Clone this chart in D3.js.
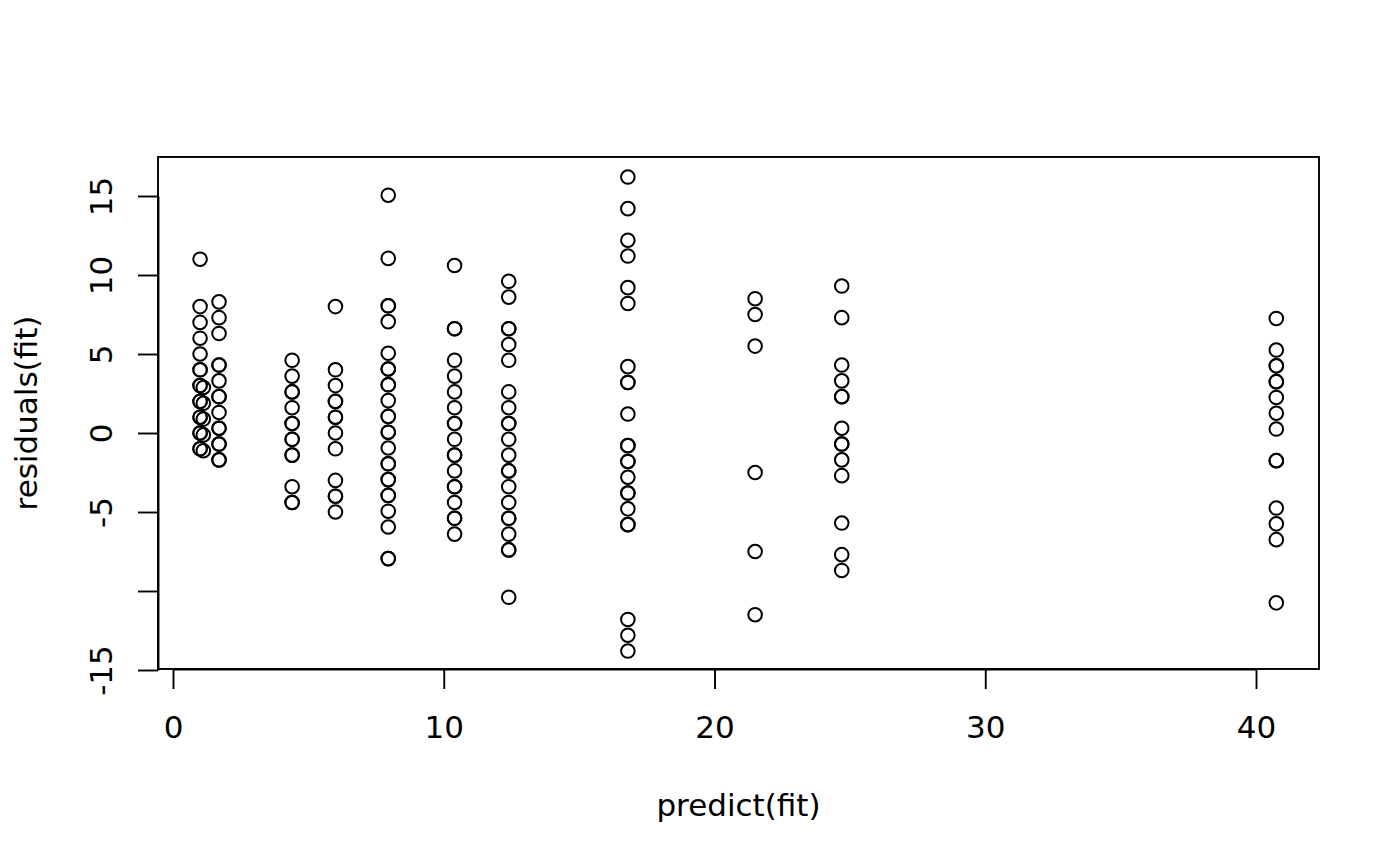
<!DOCTYPE html>
<html>
<head>
<meta charset="utf-8">
<script src="https://cdn.jsdelivr.net/npm/d3@7"></script>
<style>
  html, body { margin: 0; padding: 0; background: #fff; }
  text { font-family: "DejaVu Sans", sans-serif; fill: #000; }
</style>
</head>
<body>
<div class="graph-goes-here"></div>
<script>
// fitted value of each group, and the residuals drawn in that column
var predicted = [1.0, 1.12, 1.7, 4.4, 6.0, 7.95, 10.4, 12.4, 16.8, 21.5, 24.7, 40.75];
var residualGroups = [
    [11, 8, 7, 6, 5, 4, 4, 3, 3, 2, 2, 1, 1, 0, 0, -1, -1],
    [2.88, 1.88, 0.88, -0.12, -1.12],
    [8.3, 7.3, 6.3, 4.3, 4.3, 3.3, 2.3, 2.3, 1.3, 0.3, 0.3, -0.7, -0.7, -1.7, -1.7],
    [4.6, 3.6, 2.6, 2.6, 1.6, 0.6, 0.6, -0.4, -0.4, -1.4, -1.4, -3.4, -4.4, -4.4],
    [8, 4, 3, 2, 2, 1, 1, 0, -1, -3, -4, -4, -5],
    [15.05, 11.05, 8.05, 8.05, 7.05, 5.05, 4.05, 4.05, 3.05, 3.05, 2.05, 1.05, 1.05, 0.05, 0.05,
     -0.95, -1.95, -1.95, -2.95, -2.95, -3.95, -3.95, -4.95, -5.95, -7.95, -7.95],
    [10.6, 6.6, 6.6, 4.6, 3.6, 2.6, 1.6, 0.6, 0.6, -0.4, -1.4, -1.4, -2.4, -3.4, -3.4, -4.4, -5.4, -5.4, -6.4],
    [9.6, 8.6, 6.6, 6.6, 5.6, 4.6, 2.6, 1.6, 0.6, 0.6, -0.4, -1.4, -2.4, -2.4, -3.4, -4.4, -5.4, -5.4, -6.4, -7.4, -7.4, -10.4],
    [16.2, 14.2, 12.2, 11.2, 9.2, 8.2, 4.2, 3.2, 3.2, 1.2, -0.8, -0.8, -1.8, -1.8, -2.8, -3.8, -3.8, -4.8, -5.8, -5.8, -11.8, -12.8, -13.8],
    [8.5, 7.5, 5.5, -2.5, -7.5, -11.5],
    [9.3, 7.3, 4.3, 3.3, 2.3, 2.3, 0.3, -0.7, -0.7, -1.7, -2.7, -5.7, -7.7, -8.7],
    [7.25, 5.25, 4.25, 4.25, 3.25, 3.25, 2.25, 1.25, 0.25, -1.75, -1.75, -4.75, -5.75, -6.75, -10.75]
];

var xTicks = [0, 10, 20, 30, 40];
var xTickLabels = ["0", "10", "20", "30", "40"];
var yTicks = [-15, -10, -5, 0, 5, 10, 15];
var yTickLabels = ["-15", "", "-5", "0", "5", "10", "15"];

var points = [];
predicted.forEach((p, i) => {
    residualGroups[i].forEach(r => points.push({ fit: p, res: r }));
});

var width = 1400, height = 866;
// plot box, as R draws it
var box = { left: 158, right: 1319, top: 157, bottom: 669 };

var svg = d3.select(".graph-goes-here")
    .append("svg")
    .attr("width", width)
    .attr("height", height)
    .style("display", "block");

svg.append("rect").attr("width", width).attr("height", height).attr("fill", "#fff");

var xScale = d3.scaleLinear().domain([0, 40]).range([173, 1256]);
var yScale = d3.scaleLinear().domain([-15, 15]).range([670, 196]);

// points
svg.append("g")
    .selectAll("circle")
    .data(points)
    .enter()
    .append("circle")
    .attr("cx", d => xScale(d.fit))
    .attr("cy", d => yScale(d.res))
    .attr("r", 6.8)
    .attr("fill", "none")
    .attr("stroke", "#000")
    .attr("stroke-width", 2);

// box
svg.append("rect")
    .attr("x", box.left)
    .attr("y", box.top)
    .attr("width", box.right - box.left)
    .attr("height", box.bottom - box.top)
    .attr("fill", "none")
    .attr("stroke", "#000")
    .attr("stroke-width", 1.9);

var xAxis = svg.append("g")
    .attr("transform", "translate(0," + box.bottom + ")")
    .call(d3.axisBottom(xScale)
        .tickValues(xTicks)
        .tickFormat((d, i) => xTickLabels[i])
        .tickSize(20)
        .tickSizeOuter(0));

xAxis.selectAll("text")
    .attr("y", 69)
    .attr("dy", 0)
    .style("font-size", "31px")
    .style("font-family", "DejaVu Sans, sans-serif");

var yAxis = svg.append("g")
    .attr("transform", "translate(" + box.left + ",0)")
    .call(d3.axisLeft(yScale)
        .tickValues(yTicks)
        .tickFormat((d, i) => yTickLabels[i])
        .tickSize(20)
        .tickSizeOuter(0));

yAxis.selectAll("text")
    .attr("x", 0)
    .attr("y", 0)
    .attr("dy", 0)
    .attr("text-anchor", "middle")
    .attr("transform", "translate(-46,0) rotate(-90)")
    .style("font-size", "31px")
    .style("font-family", "DejaVu Sans, sans-serif");

[xAxis, yAxis].forEach(a => {
    a.selectAll("line").attr("stroke", "#000").attr("stroke-width", 1.9);
    a.select(".domain").attr("stroke", "#000").attr("stroke-width", 1.9);
});

// axis titles
svg.append("text")
    .attr("x", (box.left + box.right) / 2)
    .attr("y", 816)
    .attr("text-anchor", "middle")
    .style("font-size", "31px")
    .text("predict(fit)");

svg.append("text")
    .attr("transform", "translate(37," + (box.top + box.bottom) / 2 + ") rotate(-90)")
    .attr("text-anchor", "middle")
    .style("font-size", "31px")
    .text("residuals(fit)");
</script>
</body>
</html>
